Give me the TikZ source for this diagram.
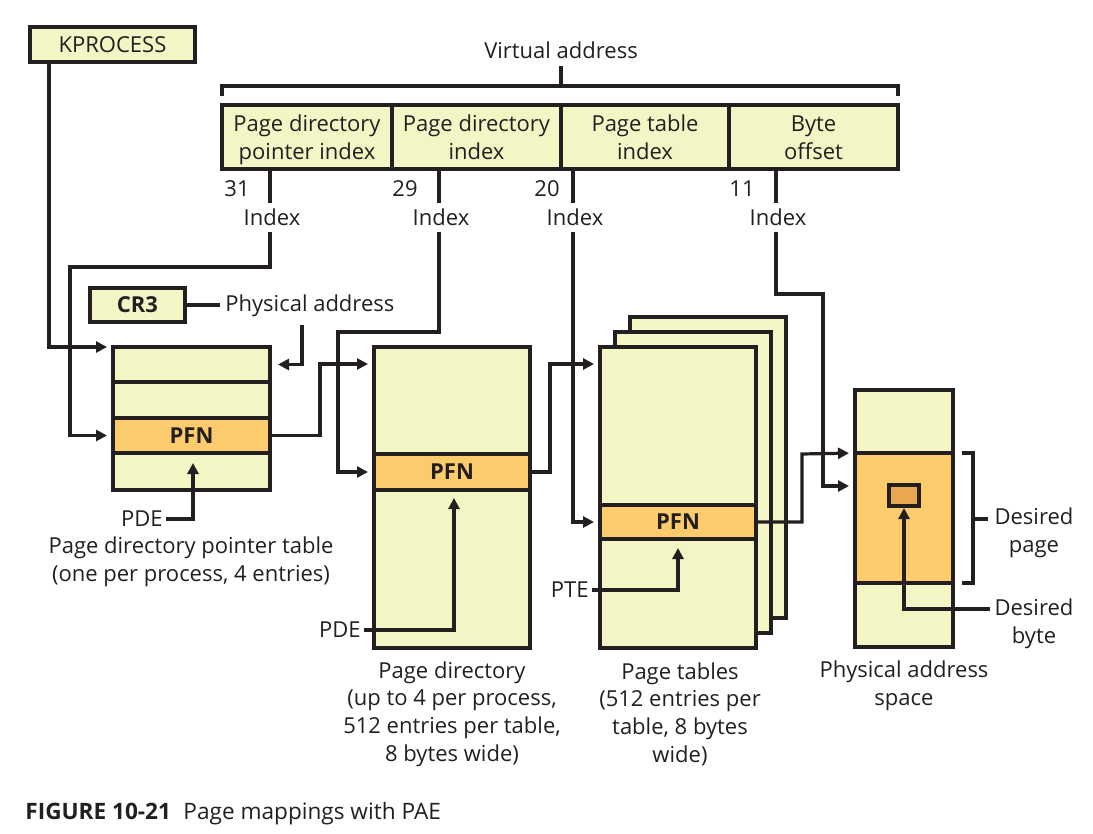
\documentclass[tikz,border=0pt]{standalone}
\usepackage{fontspec}
\setmainfont{Open Sans}
\usetikzlibrary{arrows.meta,fit}
\definecolor{lite}{HTML}{F3F5C5}
\definecolor{org}{HTML}{FCCB6C}
\definecolor{byt}{HTML}{E9A84E}
\definecolor{ink}{HTML}{231F20}
\begin{document}
\begin{tikzpicture}[x=0.5pt,y=-0.5pt,
 every node/.style={text=ink,font=\fontsize{11}{13.8}\selectfont},
 ln/.style={draw=ink,line width=1.6pt,line join=miter},
 arr/.style={ln,-{Triangle[length=5.5pt,width=5.5pt]}},
 cell/.style={inner sep=0pt,outer sep=0pt,draw=ink,line width=1.6pt,fill=lite,fit={#1}},
 ocell/.style={cell={#1},fill=org},
 txt/.style={align=center,inner sep=0pt},
 ftxt/.style={txt,yshift=-1.5pt},
 btxt/.style={txt,font=\fontsize{11}{13.8}\selectfont\bfseries},
 idx/.style={inner sep=0pt,minimum height=14.5pt},
 lbl/.style={align=center,inner sep=0pt}]
\useasboundingbox (0,0) rectangle (1093,834);

% KPROCESS
\node[cell={(30,27)(195,62)}] (kp) {};
\node[txt] at (kp.center) {KPROCESS};

% virtual address
\node (va) at (561,50) {Virtual address};
\draw[ln] (222,96) -- (222,86) -- (898,86) -- (898,96);
\draw[ln] (561,86) -- (561,66);
\node[cell={(222,105)(392,169)}] (f1) {};
\node[cell={(392,105)(561,169)}] (f2) {};
\node[cell={(561,105)(729,169)}] (f3) {};
\node[cell={(729,105)(898,169)}] (f4) {};
\node[ftxt] at (f1.center) {\strut Page directory\\\strut pointer index};
\node[ftxt] at (f2.center) {\strut Page directory\\\strut index};
\node[ftxt] at (f3.center) {\strut Page table\\\strut index};
\node[ftxt] at (f4.center) {\strut Byte\\\strut offset};

\node (n31) at (237,189) {31};
\node (n29) at (405,189) {29};
\node (n20) at (547,189) {20};
\node (n11) at (742,189) {11};

\node[idx] (i1) at (272,217.5) {Index};
\node[idx] (i2) at (441,217.5) {Index};
\node[idx] (i3) at (575,217.5) {Index};
\node[idx] (i4) at (778,217.5) {Index};
\draw[ln] (270,169) -- (270,203);
\draw[ln] (439,169) -- (439,203);
\draw[ln] (573,169) -- (573,203);
\draw[ln] (776,169) -- (776,203);

% page directory pointer table
\node[cell={(113,347)(270,382)}] (pp1) {};
\node[cell={(113,382)(270,418)}] (pp2) {};
\node[ocell={(113,418)(270,453)}] (pp3) {};
\node[btxt] at (pp3.center) {PFN};
\node[cell={(113,453)(270,490)}] (pp4) {};

\draw[arr,shorten >=3pt] (kp.south -| 49,0) |- (pp1.north west);
\draw[arr,shorten >=3pt] (270,232) |- (70,267) |- (pp3.west);

% CR3
\node[cell={(90,288)(185,322)}] (cr3) {};
\node[btxt] at (cr3.center) {CR3};
\node[anchor=west,inner xsep=2.5pt] (pa) at (220,306) {Physical address};
\draw[ln] (cr3.east) -- (220,305);
\draw[arr,shorten >=4pt] (302,325) |- (pp1.east);

\node[anchor=east,inner sep=1.5pt] (pde1) at (166,519) {PDE};
\draw[arr] (pde1.east) -| (193,463);
\node[lbl] (lpdpt) at (191,562) {Page directory pointer table\\(one per process, 4 entries)};

% page directory
\node[cell={(374,347)(530,648)}] (pd) {};
\node[ocell={(374,454)(530,490)}] (pdpfn) {};
\node[btxt] at (pdpfn.center) {PFN};
\draw[arr,shorten >=3pt] (pp3.east) -| (320,364) -- (pd.west |- 320,364);
\draw[arr,shorten >=3pt] (439,232) |- (338,332) |- (pdpfn.west);
\node[anchor=east,inner sep=1.5pt] (pde2) at (364,630) {PDE};
\draw[arr] (pde2.east) -| (454,498);
\node[lbl] (lpd) at (452,714) {Page directory\\(up to 4 per process,\\512 entries per table,\\8 bytes wide)};

% page tables
\node[cell={(630,317)(786,618)}] (pt3) {};
\node[cell={(615,332)(771,633)}] (pt2) {};
\node[cell={(600,347)(756,648)}] (pt1) {};
\node[ocell={(600,505)(756,539)}] (ptpfn) {};
\node[btxt] at (ptpfn.center) {PFN};
\draw[arr,shorten >=3pt] (pdpfn.east) -| (550,364) -- (pt1.west |- 550,364);
\draw[arr,shorten >=3pt] (573,232) |- (ptpfn.west);
\node[anchor=east,inner sep=1.5pt] (pte) at (592,590) {PTE};
\draw[arr] (pte.east) -| (678,548);
\node[lbl] (lpt) at (680,714) {Page tables\\(512 entries per\\table, 8 bytes\\wide)};

% physical address space
\node[cell={(855,390)(953,453)}] (ph1) {};
\node[ocell={(855,453)(953,583)}] (ph2) {};
\node[cell={(855,583)(953,647)}] (ph3) {};
\node[cell={(889,485)(919,506)},fill=byt] (byte) {};
\draw[arr,shorten >=3pt] (ptpfn.east) -| (802,454) -- (ph2.north west);
\draw[arr,shorten >=3pt] (776,232) |- (823,294) |- (ph2.west |- 823,486);
\node[lbl] (lph) at (904,686) {Physical address\\space};

\draw[ln] (962,453) -- (973,453) -- (973,583) -- (962,583);
\coordinate (dpt) at (988,519);
\draw[ln] (973,519) -- (dpt);
\node[lbl] (dp) at (1034,533) {Desired\\page};
\coordinate (dbt) at (990,609);
\node[lbl] (db) at (1034,624) {Desired\\byte};
\draw[arr] (dbt) -| (904,508);

% caption
\node[anchor=base west,inner sep=0pt,font=\fontsize{11.3}{13}\selectfont] (cap) at (25,819) {\textbf{FIGURE 10-21}\hspace{0.55em}Page mappings with PAE};
\end{tikzpicture}
\end{document}
